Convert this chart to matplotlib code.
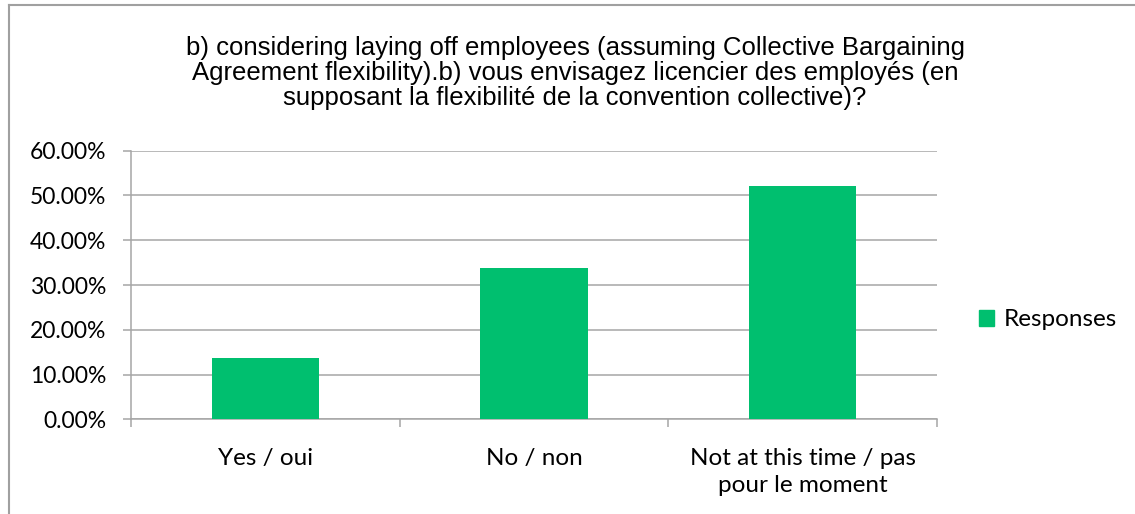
import matplotlib
matplotlib.use("Agg")
import matplotlib.pyplot as plt
from matplotlib.ticker import FuncFormatter, FixedLocator
from matplotlib.patches import Rectangle
from matplotlib.lines import Line2D

categories = ["Yes / oui", "No / non", "Not at this time / pas\npour le moment"]
values = [13.7, 33.7, 52.1]
series_name = "Responses"
title = ("b) considering laying off employees (assuming Collective Bargaining\n"
         "Agreement flexibility).b) vous envisagez licencier des employés (en\n"
         "supposant la flexibilité de la convention collective)?")
yticks = [0, 10, 20, 30, 40, 50, 60]

bar_color = "#00BF6F"
grid_color = "#A6A6A6"
tick_font = ["Lato", "DejaVu Sans"]
title_font = ["Liberation Sans", "DejaVu Sans"]

fig = plt.figure(figsize=(11.35, 5.14), dpi=100)
ax = fig.add_axes([131/1135, 1-419.3/514, (937-131)/1135, (419.3-150.7)/514])

x = list(range(len(categories)))
ax.bar(x, values, width=0.4, color=bar_color, zorder=3, label=series_name)
ax.set_xlim(-0.5, len(categories)-0.5)
ax.set_ylim(0, 60)
ax.yaxis.set_major_locator(FixedLocator(yticks))
ax.yaxis.set_major_formatter(FuncFormatter(lambda v, p: f"{v:.2f}%"))
ax.grid(axis="y", color=grid_color, linewidth=1.1, zorder=0)
ax.set_axisbelow(True)

for s in ["top", "right"]:
    ax.spines[s].set_visible(False)
for s in ["left", "bottom"]:
    ax.spines[s].set_color(grid_color)
    ax.spines[s].set_linewidth(1.1)

ax.set_xticks(x)
ax.set_xticklabels(categories, fontfamily=tick_font, fontsize=17.5, linespacing=1.3)
ax.tick_params(axis="x", length=0, pad=21)
ax.set_xticks([i - 0.5 for i in range(len(categories)+1)], minor=True)
ax.tick_params(axis="x", which="minor", length=6, color=grid_color, width=1.1, direction="out")
ax.tick_params(axis="y", length=6, color=grid_color, width=1.1, pad=12)
for lbl in ax.get_yticklabels():
    lbl.set_fontfamily(tick_font)
    lbl.set_fontsize(16.5)

fig.text(575/1135, 1-73/514, title, ha="center", va="center", fontfamily=title_font,
         fontsize=18.5, linespacing=1.06)

leg = fig.legend(handles=[Rectangle((0, 0), 1, 1, color=bar_color)], labels=[series_name],
                 loc="center left", bbox_to_anchor=(957/1135, 1-320/514), frameon=False,
                 prop={"family": tick_font, "size": 17.5}, handlelength=0.62, handleheight=0.62,
                 handletextpad=0.4)

fig.add_artist(Line2D([9/1135, 9/1135], [0, 1-5/514], transform=fig.transFigure,
                      color="#A0A0A0", linewidth=1.5))
fig.add_artist(Line2D([9/1135, 1], [1-5/514, 1-5/514], transform=fig.transFigure,
                      color="#A0A0A0", linewidth=1.5))

fig.savefig("out.png", dpi=100, facecolor="white")
